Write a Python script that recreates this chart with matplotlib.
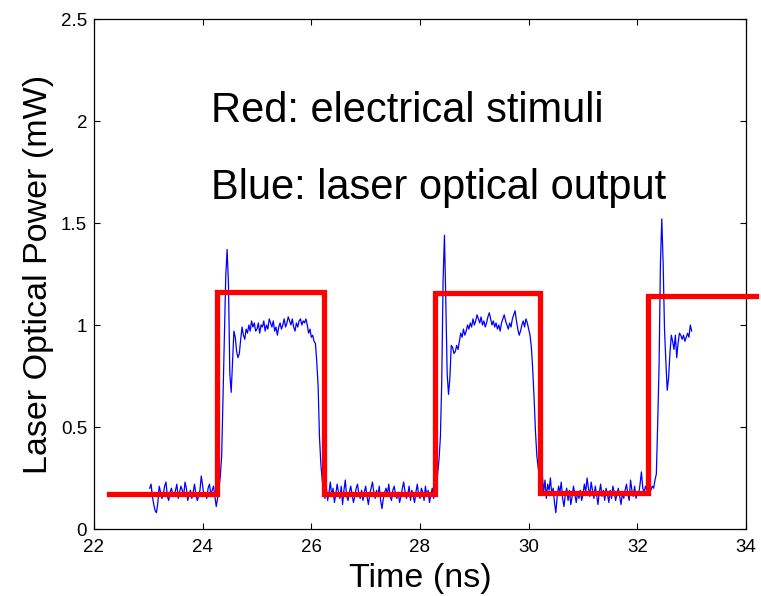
import numpy as np
import matplotlib
matplotlib.use("Agg")
import matplotlib.pyplot as plt
from matplotlib.ticker import FuncFormatter

plt.rcParams['font.family'] = ['Liberation Sans', 'DejaVu Sans']

# ---- data ----
# Red: electrical stimulus (step waveform), time in ns, power in mW
red_t = [22.27, 24.26, 24.26, 26.24, 26.24, 28.28, 28.28, 30.21, 30.21, 32.20, 32.20, 34.19]
red_p = [0.172, 0.172, 1.160, 1.160, 0.172, 0.172, 1.155, 1.155, 0.175, 0.175, 1.140, 1.140]

# Blue: measured laser optical output, sampled every 0.025 ns, in segments
blue_step = 0.025
blue_a_t0 = 23.025
blue_a = [0.20, 0.22, 0.16, 0.12, 0.09, 0.08, 0.13, 0.21, 0.18, 0.15,
          0.17, 0.21, 0.23, 0.16, 0.14, 0.18, 0.20, 0.17, 0.16, 0.19,
          0.22, 0.15, 0.18, 0.21, 0.19, 0.16, 0.23, 0.20, 0.14, 0.17,
          0.19, 0.15, 0.18, 0.22, 0.17, 0.14, 0.16, 0.19, 0.26, 0.21,
          0.16, 0.18, 0.15, 0.20, 0.22, 0.17, 0.19, 0.21, 0.16, 0.11, 0.15]
blue_b_t0 = 24.30
blue_b = [0.20, 0.26, 0.36, 0.66, 0.97, 1.24, 1.37, 1.20, 0.76, 0.67,
          0.82, 0.97, 0.94, 0.87, 0.84, 0.86, 0.93, 0.99, 0.95, 0.93,
          0.98, 0.96, 1.00, 0.97, 1.02, 0.99, 1.01, 0.97, 0.98, 1.01,
          0.96, 1.00, 0.99, 1.02, 0.97, 1.00, 0.98, 1.03, 1.01, 0.99,
          1.02, 0.97, 0.99, 0.95, 0.99, 1.01, 0.98, 1.00, 1.03, 0.99,
          1.01, 1.04, 1.02, 1.00, 1.03, 0.99, 0.97, 1.01, 0.99, 1.02,
          1.03, 1.00, 1.02, 1.01, 1.03, 1.00, 0.96, 0.98, 0.94, 0.95,
          0.92, 0.91, 0.82, 0.70, 0.45, 0.32, 0.24]
blue_c_t0 = 26.225
blue_c = [0.19, 0.15, 0.21, 0.14, 0.18, 0.23, 0.16, 0.20, 0.13, 0.17,
          0.22, 0.18, 0.15, 0.21, 0.12, 0.19, 0.24, 0.16, 0.14, 0.18,
          0.21, 0.17, 0.13, 0.16, 0.20, 0.22, 0.17, 0.15, 0.19, 0.14,
          0.18, 0.21, 0.16, 0.12, 0.17, 0.20, 0.23, 0.18, 0.15, 0.19,
          0.16, 0.21, 0.14, 0.10, 0.15, 0.18, 0.20, 0.17, 0.22, 0.16,
          0.14, 0.19, 0.21, 0.17, 0.15, 0.18, 0.13, 0.16, 0.20, 0.23,
          0.18, 0.15, 0.17, 0.21, 0.14, 0.19, 0.16, 0.13, 0.18, 0.22,
          0.17, 0.15, 0.20, 0.18, 0.14, 0.21, 0.16, 0.19, 0.13, 0.17,
          0.20, 0.15, 0.18]
blue_d_t0 = 28.30
blue_d = [0.20, 0.27, 0.34, 0.45, 0.72, 1.22, 1.44, 1.12, 0.76, 0.66,
          0.74, 0.90, 0.89, 0.86, 0.87, 0.90, 0.88, 0.92, 0.96, 0.94,
          0.98, 0.95, 0.97, 1.00, 0.98, 1.01, 0.99, 1.03, 1.00, 1.02,
          1.05, 1.03, 1.01, 1.04, 1.00, 1.02, 0.99, 1.01, 1.04, 1.06,
          1.03, 1.00, 1.02, 0.99, 1.01, 0.98, 1.00, 0.97, 1.01, 1.03,
          1.05, 1.02, 1.00, 0.98, 1.01, 0.99, 1.03, 1.05, 1.07, 1.02,
          0.98, 0.95, 0.97, 1.00, 1.02, 0.99, 1.03, 1.01, 0.98, 0.95,
          0.89, 0.78, 0.64, 0.48, 0.36, 0.30]
blue_e_t0 = 30.20
blue_e = [0.26, 0.22, 0.27, 0.18, 0.24, 0.15, 0.22, 0.19, 0.25, 0.17,
          0.20, 0.13, 0.08, 0.16, 0.21, 0.18, 0.23, 0.15, 0.11, 0.17,
          0.20, 0.14, 0.19, 0.12, 0.16, 0.21, 0.17, 0.13, 0.18, 0.15,
          0.19, 0.14, 0.17, 0.22, 0.18, 0.25, 0.20, 0.16, 0.23, 0.19,
          0.15, 0.21, 0.17, 0.12, 0.18, 0.22, 0.16, 0.19, 0.14, 0.20,
          0.17, 0.13, 0.19, 0.15, 0.21, 0.18, 0.14, 0.17, 0.20, 0.16,
          0.12, 0.18, 0.15, 0.19, 0.22, 0.17, 0.14, 0.24, 0.19, 0.16,
          0.21, 0.15, 0.18, 0.17, 0.22, 0.28, 0.20, 0.18, 0.21, 0.19,
          0.20, 0.22, 0.19, 0.21, 0.20, 0.24]
blue_f_t0 = 32.35
blue_f = [0.27, 0.52, 0.80, 1.30, 1.52, 1.30, 0.98, 0.82, 0.68, 0.74,
          0.86, 0.95, 0.92, 0.88, 0.95, 0.84, 0.91, 0.96, 0.95, 0.93,
          0.95, 0.92, 0.94, 0.96, 0.94, 1.00, 0.97]

x_ticks = [22, 24, 26, 28, 30, 32, 34]
y_ticks = [0, 0.5, 1, 1.5, 2, 2.5]
x_label = "Time (ns)"
y_label = "Laser Optical Power (mW)"
note_red = "Red: electrical stimuli"
note_blue = "Blue: laser optical output"

# ---- assemble blue trace ----
segments = [(blue_a_t0, blue_a), (blue_b_t0, blue_b), (blue_c_t0, blue_c),
            (blue_d_t0, blue_d), (blue_e_t0, blue_e), (blue_f_t0, blue_f)]
blue_t = np.concatenate([t0 + blue_step * np.arange(len(v)) for t0, v in segments])
blue_p = np.concatenate([np.asarray(v) for _, v in segments])

# ---- figure ----
fig = plt.figure(figsize=(7.61, 5.96), dpi=100)
ax = fig.add_axes([94 / 761, 67 / 596, 652 / 761, 510 / 596])

ax.plot(blue_t, blue_p, color='#0000ff', lw=0.9, zorder=2)
ax.plot(red_t, red_p, color='#ff0000', lw=3.8, zorder=3, clip_on=False,
        solid_joinstyle='miter')

ax.set_xlim(22, 34)
ax.set_ylim(0, 2.5)
ax.set_xticks(x_ticks)
ax.set_yticks(y_ticks)
fmt = FuncFormatter(lambda v, p: f"{v:g}")
ax.xaxis.set_major_formatter(fmt)
ax.yaxis.set_major_formatter(fmt)
ax.tick_params(direction='in', length=4, width=0.8, top=True, right=True,
               labelsize=13.5, colors='black')
ax.tick_params(axis='x', pad=7)
ax.tick_params(axis='y', pad=5)
for s in ax.spines.values():
    s.set_linewidth(0.9)
    s.set_color('black')

ax.set_xlabel(x_label, fontsize=24.5, labelpad=5)
ax.set_ylabel(y_label, fontsize=24.5, labelpad=5)

ax.text(24.15, 1.995, note_red, fontsize=30, va='baseline', ha='left')
ax.text(24.15, 1.62, note_blue, fontsize=30, va='baseline', ha='left')

fig.savefig("out.png", dpi=100)
